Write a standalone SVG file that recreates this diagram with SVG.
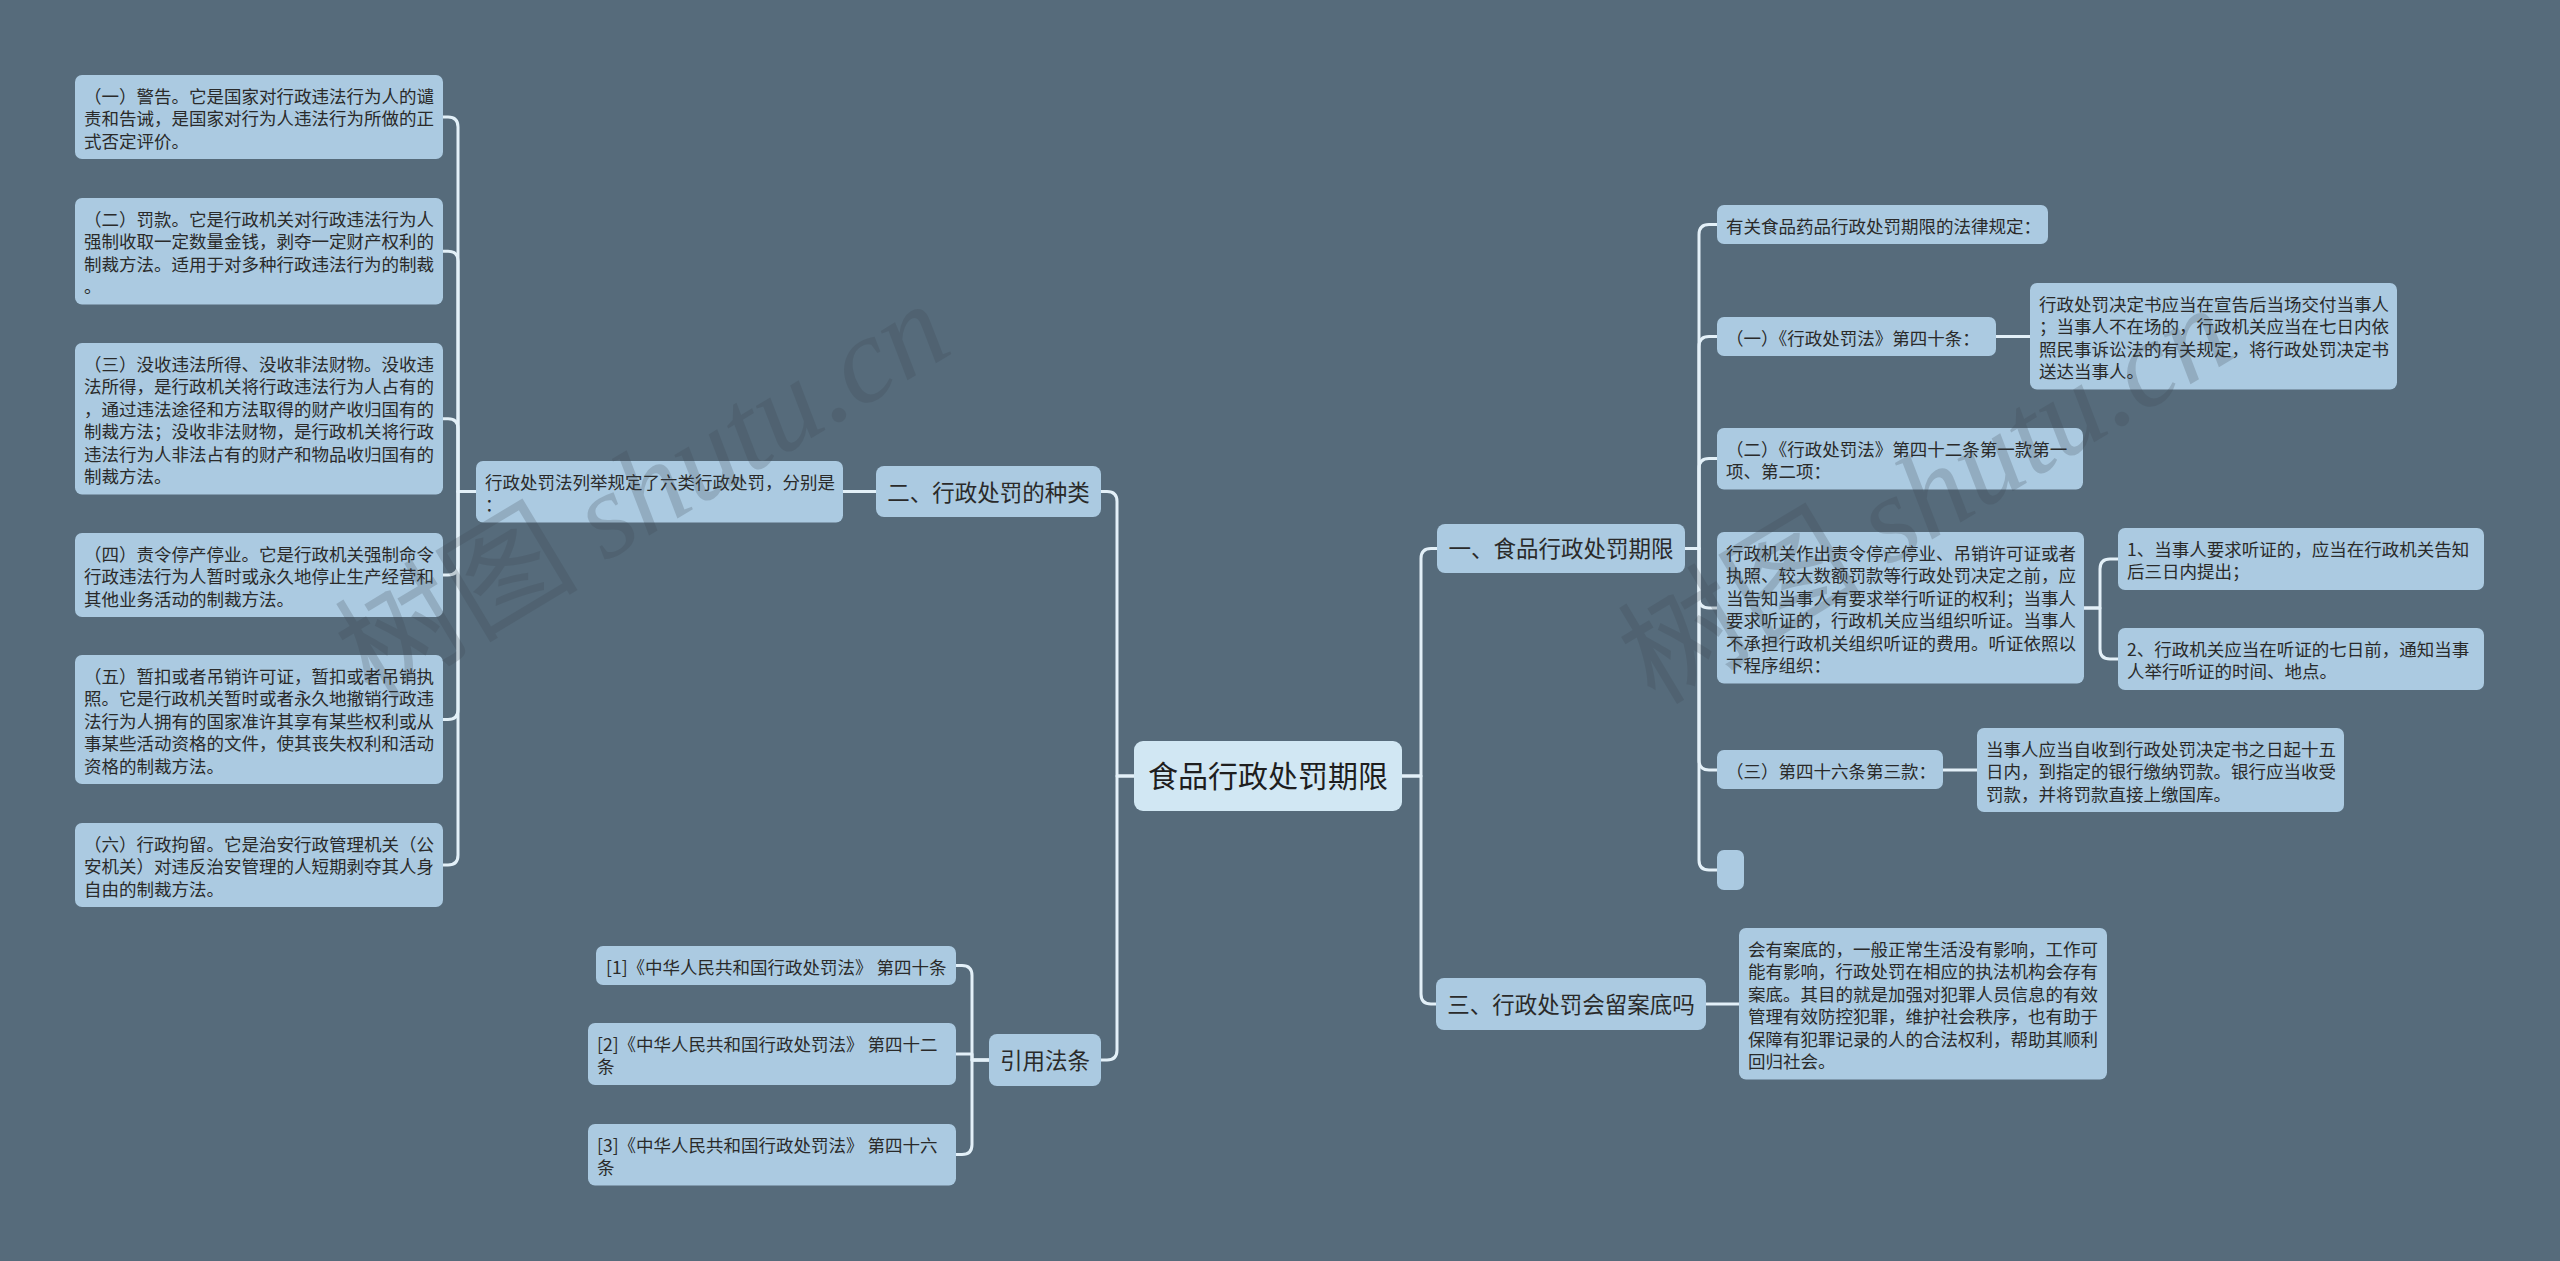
<svg xmlns="http://www.w3.org/2000/svg" width="2560" height="1261" viewBox="0 0 2560 1261">
<style>
.bg{fill:#566b7b}
.n rect{fill:#abcae1}
.root rect{fill:#d1e7f3}
text{font-family:"Noto Sans CJK SC","Noto Sans",sans-serif;fill:#2a2a2a}
.s{font-size:17.5px}
.m{font-size:22.5px;text-anchor:middle}
.r{font-size:30px;text-anchor:middle;fill:#1e1e1e}
#connectors path{fill:none;stroke:#e3f0f8;stroke-width:3;stroke-linejoin:round}
.wm{font-size:122px;fill:#3c4650;opacity:0.22}
.wm tspan{font-family:"Liberation Serif",serif;font-style:italic}
</style>
<rect class="bg" x="0" y="0" width="2560" height="1261"/>
<g id="connectors">
<path d="M1134,776 H1117 V501.5 Q1117,491.5 1107,491.5 H1101"/>
<path d="M1134,776 H1117 V1050 Q1117,1060 1107,1060 H1101"/>
<path d="M1402,776 H1421 V558.5 Q1421,548.5 1431,548.5 H1437"/>
<path d="M1402,776 H1421 V994 Q1421,1004 1431,1004 H1437"/>
<path d="M1685,548.5 H1699 V234.5 Q1699,224.5 1709,224.5 H1717"/>
<path d="M1685,548.5 H1699 V346.5 Q1699,336.5 1709,336.5 H1717"/>
<path d="M1685,548.5 H1699 V468.5 Q1699,458.5 1709,458.5 H1717"/>
<path d="M1685,548.5 H1699 V598 Q1699,608 1709,608 H1717"/>
<path d="M1685,548.5 H1699 V760 Q1699,770 1709,770 H1717"/>
<path d="M1685,548.5 H1699 V860 Q1699,870 1709,870 H1717"/>
<path d="M2084,608 H2100 V569 Q2100,559 2110,559 H2118"/>
<path d="M2084,608 H2100 V649 Q2100,659 2110,659 H2118"/>
<path d="M1996,336.5 H2030"/>
<path d="M1943,770 H1977"/>
<path d="M1706,1004 H1739"/>
<path d="M876,491.5 H843"/>
<path d="M476,491.5 H458 V127 Q458,117 448,117 H443"/>
<path d="M476,491.5 H458 V261.25 Q458,251.25 448,251.25 H443"/>
<path d="M476,491.5 H458 V428.75 Q458,418.75 448,418.75 H443"/>
<path d="M476,491.5 H458 V565 Q458,575 448,575 H443"/>
<path d="M476,491.5 H458 V709.5 Q458,719.5 448,719.5 H443"/>
<path d="M476,491.5 H458 V855 Q458,865 448,865 H443"/>
<path d="M989,1060 H972 V975.5 Q972,965.5 962,965.5 H956"/>
<path d="M989,1060 H972 V1054 H956"/>
<path d="M989,1060 H972 V1144.5 Q972,1154.5 962,1154.5 H956"/>
</g>
<g id="root" class="root"><rect x="1134" y="741" width="268" height="70" rx="9"/><text class="r" x="1268" y="787">食品行政处罚期限</text></g>
<g id="n-er" class="n"><rect x="876" y="466" width="225" height="51" rx="8"/><text class="m" x="988.5" y="500.5">二、行政处罚的种类</text></g>
<g id="n-yi" class="n"><rect x="1437" y="524" width="248" height="49" rx="8"/><text class="m" x="1561" y="557">一、食品行政处罚期限</text></g>
<g id="n-san" class="n"><rect x="1436" y="978" width="270" height="52" rx="8"/><text class="m" x="1571" y="1013">三、行政处罚会留案底吗</text></g>
<g id="n-yy" class="n"><rect x="989" y="1034" width="112" height="52" rx="8"/><text class="m" x="1045" y="1069">引用法条</text></g>
<g id="n-six" class="n"><rect x="476" y="461" width="367" height="61.5" rx="7"/><text class="s" x="485" y="488.5">行政处罚法列举规定了六类行政处罚，分别是</text><text class="s" x="485" y="511">：</text></g>
<g id="l1" class="n"><rect x="75" y="75" width="368" height="84" rx="7"/><text class="s" x="84" y="102.5">（一）警告。它是国家对行政违法行为人的谴</text><text class="s" x="84" y="125">责和告诫，是国家对行为人违法行为所做的正</text><text class="s" x="84" y="147.5">式否定评价。</text></g>
<g id="l2" class="n"><rect x="75" y="198" width="368" height="106.5" rx="7"/><text class="s" x="84" y="225.5">（二）罚款。它是行政机关对行政违法行为人</text><text class="s" x="84" y="248">强制收取一定数量金钱，剥夺一定财产权利的</text><text class="s" x="84" y="270.5">制裁方法。适用于对多种行政违法行为的制裁</text><text class="s" x="84" y="293">。</text></g>
<g id="l3" class="n"><rect x="75" y="343" width="368" height="151.5" rx="7"/><text class="s" x="84" y="370.5">（三）没收违法所得、没收非法财物。没收违</text><text class="s" x="84" y="393">法所得，是行政机关将行政违法行为人占有的</text><text class="s" x="84" y="415.5">，通过违法途径和方法取得的财产收归国有的</text><text class="s" x="84" y="438">制裁方法；没收非法财物，是行政机关将行政</text><text class="s" x="84" y="460.5">违法行为人非法占有的财产和物品收归国有的</text><text class="s" x="84" y="483">制裁方法。</text></g>
<g id="l4" class="n"><rect x="75" y="533" width="368" height="84" rx="7"/><text class="s" x="84" y="560.5">（四）责令停产停业。它是行政机关强制命令</text><text class="s" x="84" y="583">行政违法行为人暂时或永久地停止生产经营和</text><text class="s" x="84" y="605.5">其他业务活动的制裁方法。</text></g>
<g id="l5" class="n"><rect x="75" y="655" width="368" height="129" rx="7"/><text class="s" x="84" y="682.5">（五）暂扣或者吊销许可证，暂扣或者吊销执</text><text class="s" x="84" y="705">照。它是行政机关暂时或者永久地撤销行政违</text><text class="s" x="84" y="727.5">法行为人拥有的国家准许其享有某些权利或从</text><text class="s" x="84" y="750">事某些活动资格的文件，使其丧失权利和活动</text><text class="s" x="84" y="772.5">资格的制裁方法。</text></g>
<g id="l6" class="n"><rect x="75" y="823" width="368" height="84" rx="7"/><text class="s" x="84" y="850.5">（六）行政拘留。它是治安行政管理机关（公</text><text class="s" x="84" y="873">安机关）对违反治安管理的人短期剥夺其人身</text><text class="s" x="84" y="895.5">自由的制裁方法。</text></g>
<g id="ref1" class="n"><rect x="596" y="946" width="360" height="39" rx="7"/><text class="s" x="606" y="973.5">[1]《中华人民共和国行政处罚法》 第四十条</text></g>
<g id="ref2" class="n"><rect x="588" y="1023" width="368" height="62" rx="7"/><text class="s" x="597" y="1050.5">[2]《中华人民共和国行政处罚法》 第四十二</text><text class="s" x="597" y="1073">条</text></g>
<g id="ref3" class="n"><rect x="588" y="1124" width="368" height="61.5" rx="7"/><text class="s" x="597" y="1151.5">[3]《中华人民共和国行政处罚法》 第四十六</text><text class="s" x="597" y="1174">条</text></g>
<g id="r-law" class="n"><rect x="1717" y="205" width="331" height="39" rx="7"/><text class="s" x="1726" y="232.5">有关食品药品行政处罚期限的法律规定：</text></g>
<g id="r-a" class="n"><rect x="1717" y="317" width="279" height="39" rx="7"/><text class="s" x="1726" y="344.5">（一）《行政处罚法》第四十条：</text></g>
<g id="r-a1" class="n"><rect x="2030" y="283" width="367" height="106.5" rx="7"/><text class="s" x="2039" y="310.5">行政处罚决定书应当在宣告后当场交付当事人</text><text class="s" x="2039" y="333">；当事人不在场的，行政机关应当在七日内依</text><text class="s" x="2039" y="355.5">照民事诉讼法的有关规定，将行政处罚决定书</text><text class="s" x="2039" y="378">送达当事人。</text></g>
<g id="r-b" class="n"><rect x="1717" y="428" width="366" height="61.5" rx="7"/><text class="s" x="1726" y="455.5">（二）《行政处罚法》第四十二条第一款第一</text><text class="s" x="1726" y="478">项、第二项：</text></g>
<g id="r-big" class="n"><rect x="1717" y="532" width="367" height="151.5" rx="7"/><text class="s" x="1726" y="559.5">行政机关作出责令停产停业、吊销许可证或者</text><text class="s" x="1726" y="582">执照、较大数额罚款等行政处罚决定之前，应</text><text class="s" x="1726" y="604.5">当告知当事人有要求举行听证的权利；当事人</text><text class="s" x="1726" y="627">要求听证的，行政机关应当组织听证。当事人</text><text class="s" x="1726" y="649.5">不承担行政机关组织听证的费用。听证依照以</text><text class="s" x="1726" y="672">下程序组织：</text></g>
<g id="r-s1" class="n"><rect x="2118" y="528" width="366" height="62" rx="7"/><text class="s" x="2127" y="555.5">1、当事人要求听证的，应当在行政机关告知</text><text class="s" x="2127" y="578">后三日内提出；</text></g>
<g id="r-s2" class="n"><rect x="2118" y="628" width="366" height="62" rx="7"/><text class="s" x="2127" y="655.5">2、行政机关应当在听证的七日前，通知当事</text><text class="s" x="2127" y="678">人举行听证的时间、地点。</text></g>
<g id="r-c" class="n"><rect x="1717" y="750" width="226" height="39" rx="7"/><text class="s" x="1726" y="777.5">（三）第四十六条第三款：</text></g>
<g id="r-c1" class="n"><rect x="1977" y="728" width="367" height="84" rx="7"/><text class="s" x="1986" y="755.5">当事人应当自收到行政处罚决定书之日起十五</text><text class="s" x="1986" y="778">日内，到指定的银行缴纳罚款。银行应当收受</text><text class="s" x="1986" y="800.5">罚款，并将罚款直接上缴国库。</text></g>
<g id="r-empty" class="n"><rect x="1717" y="850" width="27" height="40" rx="7"/></g>
<g id="r-san1" class="n"><rect x="1739" y="928" width="368" height="151.5" rx="7"/><text class="s" x="1748" y="955.5">会有案底的，一般正常生活没有影响，工作可</text><text class="s" x="1748" y="978">能有影响，行政处罚在相应的执法机构会存有</text><text class="s" x="1748" y="1000.5">案底。其目的就是加强对犯罪人员信息的有效</text><text class="s" x="1748" y="1023">管理有效防控犯罪，维护社会秩序，也有助于</text><text class="s" x="1748" y="1045.5">保障有犯罪记录的人的合法权利，帮助其顺利</text><text class="s" x="1748" y="1068">回归社会。</text></g>
<g id="watermark">
<text class="wm" x="372" y="702" transform="rotate(-31 372 702)">树图 <tspan>shutu.cn</tspan></text>
<text class="wm" x="1655" y="706" transform="rotate(-31 1655 706)">树图 <tspan>shutu.cn</tspan></text>
</g>
</svg>
